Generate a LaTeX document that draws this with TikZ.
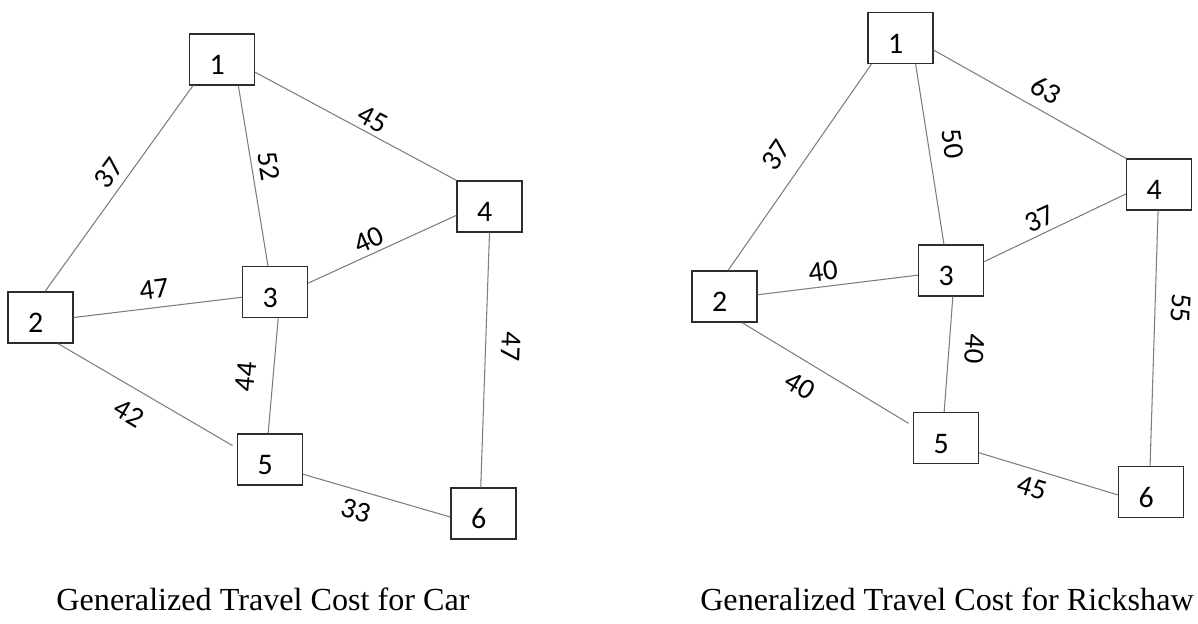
\documentclass[tikz,border=0pt]{standalone}
\usepackage{fontspec}
\setmainfont{Liberation Serif}
\newfontfamily\lblfont{Carlito}
\usepackage{xcolor}
\usepackage{tikz}
\definecolor{edgegray}{RGB}{125,125,125}
\definecolor{boxdark}{RGB}{45,45,45}
\tikzset{
  town/.style={rectangle, draw=boxdark, fill=white,
    minimum width=1.3cm, minimum height=1.02cm, inner sep=0pt,
    text width=0.5cm, align=left, text height=0.6cm, text depth=0cm,
    font=\lblfont\fontsize{17}{20}\selectfont, line width=0.8pt},
  link/.style={draw=edgegray, line width=0.6pt},
  cost/.style={font=\lblfont\fontsize{16.5}{19}\selectfont, inner sep=1pt},
  caption/.style={font=\fontsize{18.3}{22}\selectfont, inner sep=0pt}
}

\begin{document}
\begin{tikzpicture}[x=0.02cm, y=-0.02cm]
  \useasboundingbox (0,0) rectangle (1198,623);

  % car network
  \node[town] (c1) at (222,59.5) {1};
  \node[town] (c2) at (40.5,317.5) {2};
  \node[town] (c3) at (275,292) {3};
  \node[town] (c4) at (489.5,206.5) {4};
  \node[town] (c5) at (270,459.5) {5};
  \node[town] (c6) at (483.5,513.5) {6};

  \draw[link] (c1.222) -- (c2.80);
  \draw[link] (c1.302) -- (c3.105);
  \draw[link] (c1.339) -- (c4.north west);
  \draw[link] (c3.15) -- (c4.195);
  \draw[link] (c2.east) -- (c3.189);
  \draw[link] (c3.277) -- (c5.94);
  \draw[link, shorten >=0.1cm] (c2.304) -- (c5.161);
  \draw[link] (c5.336) -- (c6.186);
  \draw[link] (c4.south) -- (c6.96);

  \node[cost, rotate=54] (w12) at (109,173) {37};
  \node[cost, rotate=-80] (w13) at (269,166) {52};
  \node[cost, rotate=-28] (w14) at (373,119) {45};
  \node[cost, rotate=24] (w34) at (369,240) {40};
  \node[cost, rotate=7] (w23) at (154,289) {47};
  \node[cost, rotate=85] (w35) at (246,377) {44};
  \node[cost, rotate=-31] (w25) at (129,413) {42};
  \node[cost, rotate=-16] (w56) at (356,511) {33};
  \node[cost, rotate=-92] (w46) at (511,347) {47};

  % rickshaw network
  \node[town] (r1) at (900.5,38) {1};
  \node[town] (r2) at (724.5,296.5) {2};
  \node[town] (r3) at (951,270.5) {3};
  \node[town] (r4) at (1159,184.5) {4};
  \node[town] (r5) at (946,438) {5};
  \node[town] (r6) at (1151,492) {6};

  \draw[link] (r1.222) -- (r2.82);
  \draw[link] (r1.300) -- (r3.105);
  \draw[link] (r1.340) -- (r4.north west);
  \draw[link] (r3.15) -- (r4.196);
  \draw[link] (r2.3) -- (r3.188);
  \draw[link] (r3.274) -- (r5.94);
  \draw[link, shorten >=0.1cm] (r2.304) -- (r5.160);
  \draw[link] (r5.336) -- (r6.185);
  \draw[link] (r4.268) -- (r6.92);

  \node[cost, rotate=55] (v12) at (776,155) {37};
  \node[cost, rotate=-81] (v13) at (953,144) {50};
  \node[cost, rotate=-29] (v14) at (1046,90) {63};
  \node[cost, rotate=25] (v34) at (1040,219) {37};
  \node[cost, rotate=7] (v23) at (823,271) {40};
  \node[cost, rotate=-94] (v35) at (975,349) {40};
  \node[cost, rotate=-31] (v25) at (800,386) {40};
  \node[cost, rotate=-17] (v56) at (1032,488) {45};
  \node[cost, rotate=-92] (v46) at (1181,308) {55};

  % captions
  \node[caption] (capcar) at (263,599) {Generalized Travel Cost for Car};
  \node[caption] (caprik) at (947,599) {Generalized Travel Cost for Rickshaw};
\end{tikzpicture}
\end{document}
